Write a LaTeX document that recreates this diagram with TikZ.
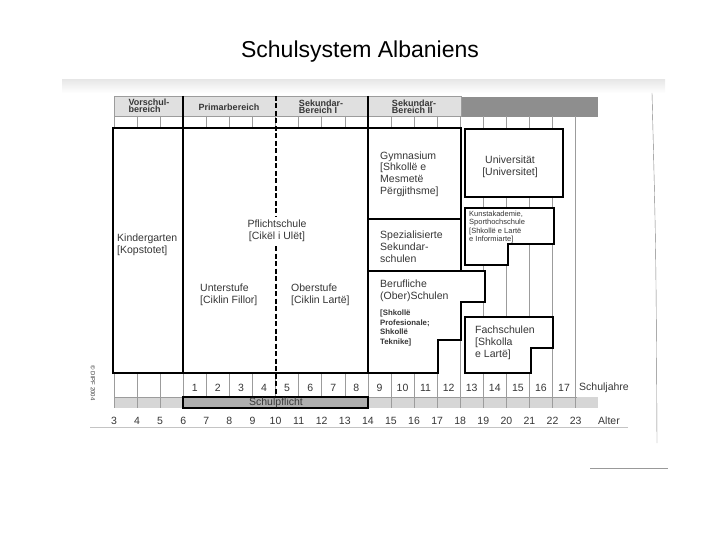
\documentclass[tikz,border=0pt]{standalone}
\usepackage{fontspec}
\setmainfont{Liberation Sans}
\usepackage{tikz}
\definecolor{kopf}{HTML}{E0E0E0}
\definecolor{band}{HTML}{8E8E8E}
\definecolor{streifen}{HTML}{D6D6D6}
\definecolor{pflicht}{HTML}{AEAEAE}
\definecolor{gitter}{HTML}{9C9C9C}
\definecolor{schrift}{HTML}{363636}

\begin{document}
\begin{tikzpicture}[x=1pt, y=-1pt]
    \tikzstyle{box} += [draw=black, line width=1.8pt, fill=white];
    \tikzstyle{txt} += [inner sep=0pt, align=left, anchor=west, text=schrift, font=\fontsize{10.5}{12}\selectfont];
    \tikzstyle{klein} += [inner sep=0pt, align=left, anchor=west, text=schrift];
    \tikzstyle{kopftxt} += [inner sep=0pt, align=left, text=schrift, font=\bfseries\fontsize{9}{7.5}\selectfont];
    \tikzstyle{zahl} += [inner sep=0pt, text=schrift, font=\fontsize{10.5}{12}\selectfont];

    \useasboundingbox (0,0) rectangle (720,540);

    \node (titel) at (360,52) [font=\fontsize{23}{26}\selectfont] {Schulsystem Albaniens};

    % scan shadow and bands
    \shade[top color=gray!18, bottom color=white] (62,80) rectangle (665,93);
    \fill[band] (461,97) rectangle (598,117);
    \draw[gitter, fill=kopf] (114,96) rectangle (461,116);
    \fill[streifen] (114,397) rectangle (598,408);

    \foreach \a in {4,...,23} {
      \pgfmathsetmacro{\x}{114+(\a-3)*23.08}
      \draw[gitter, line width=0.5pt] (\x,116) -- (\x,408);
    }
    \draw[gitter, line width=0.5pt] (114,116) -- (114,408);
    \draw[gitter, line width=0.5pt] (114,397) -- (577,397);

    \draw[box] (113,128) rectangle (183,373);
    \draw[box] (183,128) rectangle (368,373);
    \draw[box] (368,128) rectangle (461,219);
    \draw[box] (368,219) rectangle (461,271);
    \draw[box] (368,271) -- (485,271) -- (485,302) -- (461,302) -- (461,340)
               -- (438,340) -- (438,373) -- (368,373) -- cycle;
    \draw[box] (465,129) rectangle (563,197);
    \draw[box] (465,208) -- (554,208) -- (554,244) -- (508,244) -- (508,265)
               -- (465,265) -- cycle;
    \draw[box] (465,317) -- (553,317) -- (553,348) -- (531,348) -- (531,373)
               -- (465,373) -- cycle;

    \draw[line width=1.8pt] (183,96) -- (183,128) (368,96) -- (368,128);
    \draw[line width=1.8pt, dash pattern=on 5pt off 2.5pt] (276,96) -- (276,397);
    \draw[line width=1.5pt, fill=pflicht] (183,397) rectangle (368,408);

    \node (vor)  at (149,106) [kopftxt] {Vorschul-\\bereich};
    \node (prim) at (229,107) [kopftxt] {Primarbereich};
    \node (sek1) at (321,107) [kopftxt] {Sekundar-\\Bereich I};
    \node (sek2) at (414,107) [kopftxt] {Sekundar-\\Bereich II};

    \node (kiga)  at (117,245) [txt] {Kindergarten\\{}[Kopstotet]};
    \node (pfl)   at (277,231) [txt, anchor=center, align=center, fill=white, inner sep=3pt] {Pflichtschule\\{}[Cikël i Ulët]};
    \node (unter) at (200,295) [txt] {Unterstufe\\{}[Ciklin Fillor]};
    \node (ober)  at (291,295) [txt] {Oberstufe\\{}[Ciklin Lartë]};
    \node (gym)   at (380,174) [txt, font=\fontsize{10.5}{11.6}\selectfont] {Gymnasium\\{}[Shkollë e\\Mesmetë\\Përgjithsme]};
    \node (uni)   at (510,167) [txt, anchor=center, align=center] {Universität\\{}[Universitet]};
    \node (spez)  at (380,247) [txt] {Spezialisierte\\Sekundar-\\schulen};
    \node (kunst) at (469,227) [klein, font=\fontsize{7.5}{8.4}\selectfont] {Kunstakademie,\\Sporthochschule\\{}[Shkollë e Lartë\\e Informiarte]};
    \node (beruf) at (380,291) [txt] {Berufliche\\(Ober)Schulen};
    \node (beruf2) at (380,328) [klein, font=\bfseries\fontsize{7.8}{9.8}\selectfont] {[Shkollë\\Profesionale;\\Shkollë\\Teknike]};
    \node (fach)  at (475,343) [txt] {Fachschulen\\{}[Shkolla\\e Lartë]};

    \foreach \j in {1,...,17} {
      \pgfmathsetmacro{\x}{114+(\j+2.5)*23.08}
      \node (jahr\j) at (\x,388) [zahl] {\j};
    }
    \node (schuljahre) at (579,388) [zahl, anchor=west] {Schuljahre};
    \node (schulpflicht) at (276,403) [zahl] {Schulpflicht};

    \foreach \a in {3,...,23} {
      \pgfmathsetmacro{\x}{114+(\a-3)*23.08}
      \node (alter\a) at (\x,421) [zahl] {\a};
    }
    \node (alter) at (598,421) [zahl, anchor=west] {Alter};
    \draw[gitter!60] (90,427) -- (628,427);

    \node (quelle) at (93,383) [rotate=-90, text=schrift, font=\fontsize{6}{7}\selectfont] {© DIPF 2004};

    % scan edges
    \draw[gray] (652,93) .. controls (656,250) .. (657,443);
    \draw[gray!80, line width=1pt] (590,468) -- (668,468);
\end{tikzpicture}
\end{document}
